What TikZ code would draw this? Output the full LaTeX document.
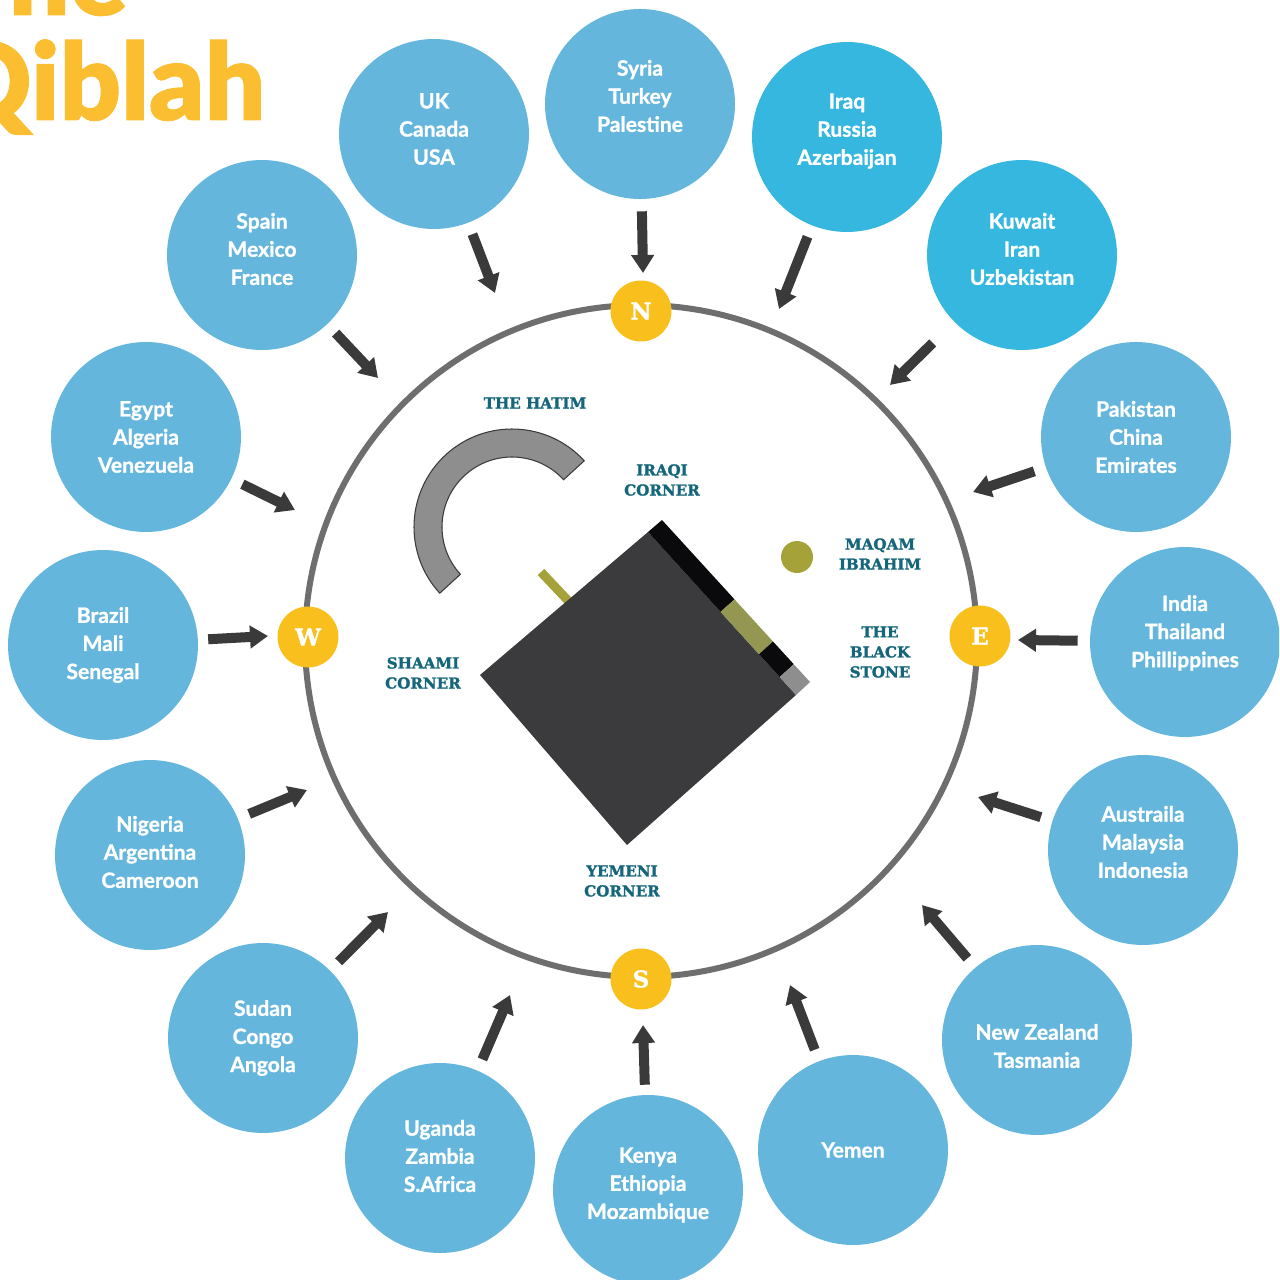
\documentclass[tikz,border=0pt]{standalone}
\usepackage{fontspec}
\setmainfont{Lato}
\newfontfamily\slabfont{DejaVu Serif Bold}[FakeBold=1.6]
\newfontfamily\landfont{Lato Bold}[FakeBold=1.2]
\newfontfamily\titlefont{Lato Black}[FakeBold=0.8]
\usetikzlibrary{arrows.meta,calc}
\definecolor{skyblue}{HTML}{64B6DD}
\definecolor{deepsky}{HTML}{35B7DF}
\definecolor{qgold}{HTML}{FBBE30}
\definecolor{compassgold}{HTML}{F9C01D}
\definecolor{ringgray}{HTML}{6E6E6E}
\definecolor{arrowgray}{HTML}{3A3A3A}
\definecolor{kaabagray}{HTML}{3B3B3D}
\definecolor{stripblack}{HTML}{0A0A0D}
\definecolor{hatimgray}{HTML}{8E8E8E}
\definecolor{stickolive}{HTML}{A6A23A}
\definecolor{stoneolive}{HTML}{939752}
\definecolor{teallabel}{HTML}{15667A}
\tikzset{>/.tip={Triangle[length=0.36cm,width=0.44cm]}}

\begin{document}
\begin{tikzpicture}[x=0.02cm, y=-0.02cm,
  land/.style={circle, fill=skyblue, inner sep=0pt, minimum size=3.8cm},
  far/.style={land, fill=deepsky},
  names/.style={text=white, align=center, inner sep=0pt,
    font=\landfont\fontsize{12}{16}\selectfont},
  compass/.style={circle, fill=compassgold, text=white, inner sep=0pt,
    minimum size=1.22cm, font=\slabfont\fontsize{13}{13}\selectfont},
  spot/.style={text=teallabel, align=center, inner sep=0pt,
    font=\slabfont\fontsize{8.6}{11.4}\selectfont},
  heading/.style={text=qgold, anchor=base west, inner sep=0pt,
    font=\titlefont\fontsize{61}{61}\selectfont},
  toward/.style={->, draw=arrowgray, line width=0.2cm}]
\useasboundingbox (0,0) rectangle (1279,1280);
\clip (0,0) rectangle (1279,1280);

\node[heading] (the)    at (-56,15)  {The};
\node[heading] (qiblah) at (-56,120) {Qiblah};

\coordinate (hub) at (641,641);
\draw[ringgray, line width=0.12cm] (hub) circle[radius=6.72cm];

\coordinate (hc) at (512,527);
\draw[fill=hatimgray, draw=arrowgray, line width=0.6pt]
  ($(hc)+(-42.5:98)$) arc[start angle=-42.5, end angle=-222.5, radius=98]
  -- ($(hc)+(137.5:70)$) arc[start angle=137.5, end angle=317.5, radius=70] -- cycle;

\coordinate (stick-in)  at (575,608);
\coordinate (stick-out) at (541,572);
\draw[stickolive, line width=0.18cm] (stick-in) -- (stick-out);

\coordinate (kl) at (480,675);
\coordinate (kt) at (648,532);
\coordinate (kr) at (796,695);
\coordinate (kb) at (627,845);
\coordinate (st) at (662,520);
\coordinate (sr) at (810,682);
\fill[kaabagray] (kl) -- (kt) -- (kr) -- (kb) -- cycle;
\foreach \a/\b/\c in {0/0.49/stripblack, 0.49/0.75/stoneolive, 0.75/0.89/stripblack, 0.89/1/hatimgray}
{
  \fill[\c] ($(kt)!\a!(kr)$) -- ($(st)!\a!(sr)$) -- ($(st)!\b!(sr)$) -- ($(kt)!\b!(kr)$) -- cycle;
}

\node[circle, fill=stickolive, minimum size=0.64cm, inner sep=0pt] (maqam) at (797,557) {};

\node[spot] (hatim)  at (535,403) {THE HATIM};
\node[spot] (iraqi)  at (662,480) {IRAQI\\CORNER};
\node[spot] (ibrahim) at (880,554) {MAQAM\\IBRAHIM};
\node[spot] (stone)  at (880,652) {THE\\BLACK\\STONE};
\node[spot] (shaami) at (423,673) {SHAAMI\\CORNER};
\node[spot] (yemeni) at (622,881) {YEMENI\\CORNER};

\node[compass] (north) at (641,311) {N};
\node[compass] (south) at (641,979) {S};
\node[compass] (west)  at (308,637) {W};
\node[compass] (east)  at (980,636) {E};

\node[land, label={[names, yshift=0.1cm]center:{UK\\Canada\\USA}}]            (uk)        at (434,134)  {};
\node[land, label={[names, yshift=0.16cm]center:{Syria\\Turkey\\Palestine}}]  (syria)     at (640,104)  {};
\node[far,  label={[names, yshift=0.12cm]center:{Iraq\\Russia\\Azerbaijan}}]  (iraq)      at (847,137)  {};
\node[far,  label={[names, yshift=0.12cm]center:{Kuwait\\Iran\\Uzbekistan}}]  (kuwait)    at (1022,255) {};
\node[land, label={[names]center:{Pakistan\\China\\Emirates}}]                (pakistan)  at (1136,437) {};
\node[land, label={[names, yshift=0.18cm]center:{India\\Thailand\\Phillippines}}] (india) at (1185,642) {};
\node[land, label={[names, yshift=0.16cm]center:{Austraila\\Malaysia\\Indonesia}}] (australia) at (1143,850) {};
\node[land, label={[names, yshift=-0.12cm]center:{New Zealand\\Tasmania}}]    (nz)        at (1037,1040) {};
\node[land, label={[names]center:{Yemen}}]                                    (yemen)     at (853,1150) {};
\node[land, label={[names, yshift=0.1cm]center:{Kenya\\Ethiopia\\Mozambique}}] (kenya)    at (648,1190) {};
\node[land, label={[names, yshift=0.04cm]center:{Uganda\\Zambia\\S.Africa}}]  (uganda)    at (440,1158) {};
\node[land, label={[names]center:{Sudan\\Congo\\Angola}}]                     (sudan)     at (263,1038) {};
\node[land, label={[names, yshift=0.06cm]center:{Nigeria\\Argentina\\Cameroon}}] (nigeria) at (150,855)  {};
\node[land, label={[names]center:{Brazil\\Mali\\Senegal}}]                    (brazil)    at (103,645)  {};
\node[land, label={[names]center:{Egypt\\Algeria\\Venezuela}}]                (egypt)     at (146,437)  {};
\node[land, label={[names, yshift=0.12cm]center:{Spain\\Mexico\\France}}]     (spain)     at (262,255)  {};

\coordinate (uk-tip)        at (495,293);
\coordinate (syria-tip)     at (643,273);
\coordinate (iraq-tip)      at (779,309);
\coordinate (kuwait-tip)    at (890,385);
\coordinate (pakistan-tip)  at (973,492);
\coordinate (india-tip)     at (1018,640);
\coordinate (australia-tip) at (978,797);
\coordinate (nz-tip)        at (922,905);
\coordinate (yemen-tip)     at (790,985);
\coordinate (kenya-tip)     at (643,1025);
\coordinate (uganda-tip)    at (510,995);
\coordinate (sudan-tip)     at (388,912);
\coordinate (nigeria-tip)   at (307,790);
\coordinate (brazil-tip)    at (268,636);
\coordinate (egypt-tip)     at (295,510);
\coordinate (spain-tip)     at (378,378);

\foreach \i/\gap in {uk/0.24cm, syria/0.24cm, iraq/0.24cm, kuwait/0.6cm, pakistan/0.24cm,
  india/0.24cm, australia/0.24cm, nz/0.24cm, yemen/0.24cm, kenya/0.2cm, uganda/0.24cm,
  sudan/0.24cm, nigeria/0.24cm, brazil/0.2cm, egypt/0.24cm, spain/0.24cm}
{
  \draw[toward, shorten <=\gap] (\i) -- (\i-tip);
}
\end{tikzpicture}
\end{document}
